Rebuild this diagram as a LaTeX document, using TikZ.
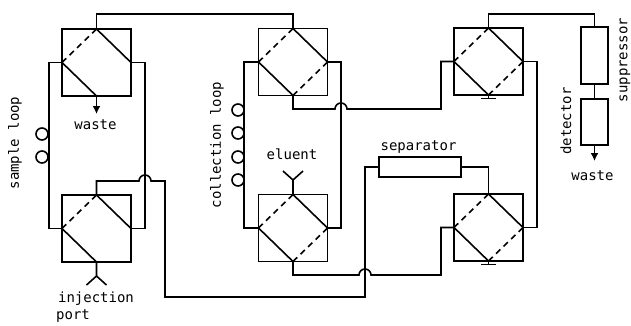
\documentclass[tikz,border=0pt]{standalone}
\usepackage{fontspec}
\setmainfont{DejaVu Sans Mono}
\usetikzlibrary{arrows.meta}
\tikzset{
  x=1pt,y=1pt,
  wire/.style={line width=1.6pt,line join=miter},
  valve/.style={draw,line width=1.6pt,minimum width=69pt,minimum height=67pt,inner sep=0pt,outer sep=0pt},
  column/.style={draw,line width=1.6pt,inner sep=0pt,outer sep=0pt},
  dashline/.style={line width=1.6pt,dash pattern=on 6pt off 4.5pt},
  loopc/.style={draw,line width=1.6pt,circle,minimum size=12pt,inner sep=0pt,fill=none},
  lab/.style={inner sep=0pt,font=\fontsize{14}{15}\selectfont},
  tip/.style={-{Latex[length=8pt,width=8pt]}}
}
\begin{document}
\begin{tikzpicture}
\useasboundingbox (0,0) rectangle (631,-325);
% valves
\node[valve] (v1) at (96.5,-62.5) {};
\node[valve] (v2) at (96.5,-228.5) {};
\node[valve] (v3) at (293,-62) {};
\node[valve] (v4) at (293,-228) {};
\node[valve] (v5) at (488.5,-61.5) {};
\node[valve] (v6) at (488.5,-227.5) {};
% columns
\node[column,minimum width=82pt,minimum height=20pt] (sep) at (420,-167) {};
\node[column,minimum width=27pt,minimum height=57pt] (sup) at (594.5,-55.5) {};
\node[column,minimum width=27pt,minimum height=46pt] (det) at (594.5,-122) {};
% internal channels
\foreach \v in {v1,v2,v3,v4,v5,v6}{
  \draw[wire] (\v.north) -- (\v.east);
  \draw[wire] (\v.west) -- (\v.south);
  \draw[dashline] (\v.west) -- (\v.north);
}
\foreach \v in {v3,v4,v5,v6}{
  \draw[dashline] (\v.south) -- (\v.east);
}
% connectors
\draw[wire] (v1.west) -- (49,-62.5) -- (49,-228.5) -- (v2.west);
\draw[wire] (v1.east) -- (145,-62.5) -- (145,-228.5) -- (v2.east);
\draw[wire] (v1.north) -- (96.5,-14) -- (293,-14) -- (v3.north);
\draw[wire] (v3.west) -- (244,-62) -- (244,-228) -- (v4.west);
\draw[wire] (v3.east) -- (341,-62) -- (341,-228) -- (v4.east);
\draw[wire] (v5.east) -- (537,-61.5) -- (537,-227.5) -- (v6.east);
\draw[wire] (v5.north) -- (488.5,-14) -- (594.5,-14) -- (sup.north);
\draw[wire] (sup.south) -- (det.north);
\draw[wire] (sep.east) -- (488.5,-167) -- (v6.north);
\draw[wire] (v2.north) -- (96.5,-181) -- (139,-181)
  arc[start angle=180,end angle=0,radius=6] -- (165,-181) -- (165,-297) -- (365,-297) -- (365,-167) -- (sep.west);
\draw[wire] (v3.south) -- (293,-109) -- (335,-109)
  arc[start angle=180,end angle=0,radius=6] -- (441,-109) -- (441,-61.5) -- (v5.west);
\draw[wire] (v4.south) -- (293,-275) -- (359,-275)
  arc[start angle=180,end angle=0,radius=6] -- (441,-275) -- (441,-227.5) -- (v6.west);
% vents
\coordinate (w1) at (96.5,-114);
\coordinate (w2) at (594.5,-161);
\draw[wire,tip] (v1.south) -- (w1);
\draw[wire,tip] (det.south) -- (w2);
% injection ports
\coordinate (y2) at (96.5,-276);
\coordinate (y4) at (293,-180);
\draw[wire] (v2.south) -- (y2) -- ++(-10,-9);
\draw[wire] (y2) -- ++(10,-9);
\draw[wire] (v4.north) -- (y4) -- ++(-10,9);
\draw[wire] (y4) -- ++(10,9);
% blocked ports
\draw[wire] (v5.south) -- ++(0,-3);
\draw[wire] (481,-98.5) -- (496,-98.5);
\draw[wire] (v6.south) -- ++(0,-3);
\draw[wire] (481,-264.5) -- (496,-264.5);
% loops
\foreach \n/\x/\y in {a/42/-134,b/42/-157,c/238/-110,d/238/-133,e/238/-157,f/238/-180}{
  \node[loopc] (\n) at (\x,\y) {};
}
% labels
\node[lab] (t1) at (95.5,-125) {waste};
\node[lab,rotate=90] (t2) at (15,-143) {sample loop};
\node[lab] (t3) at (96,-299) {injection};
\node[lab,anchor=west] (t4) at (56,-316.5) {port};
\node[lab,rotate=90] (t5) at (217,-145) {collection loop};
\node[lab] (t6) at (292,-154) {eluent};
\node[lab] (t7) at (418.5,-147) {separator};
\node[lab,rotate=90] (t8) at (566,-121) {detector};
\node[lab,rotate=90] (t9) at (625,-60) {suppressor};
\node[lab] (t10) at (592.5,-176) {waste};
\end{tikzpicture}
\end{document}
